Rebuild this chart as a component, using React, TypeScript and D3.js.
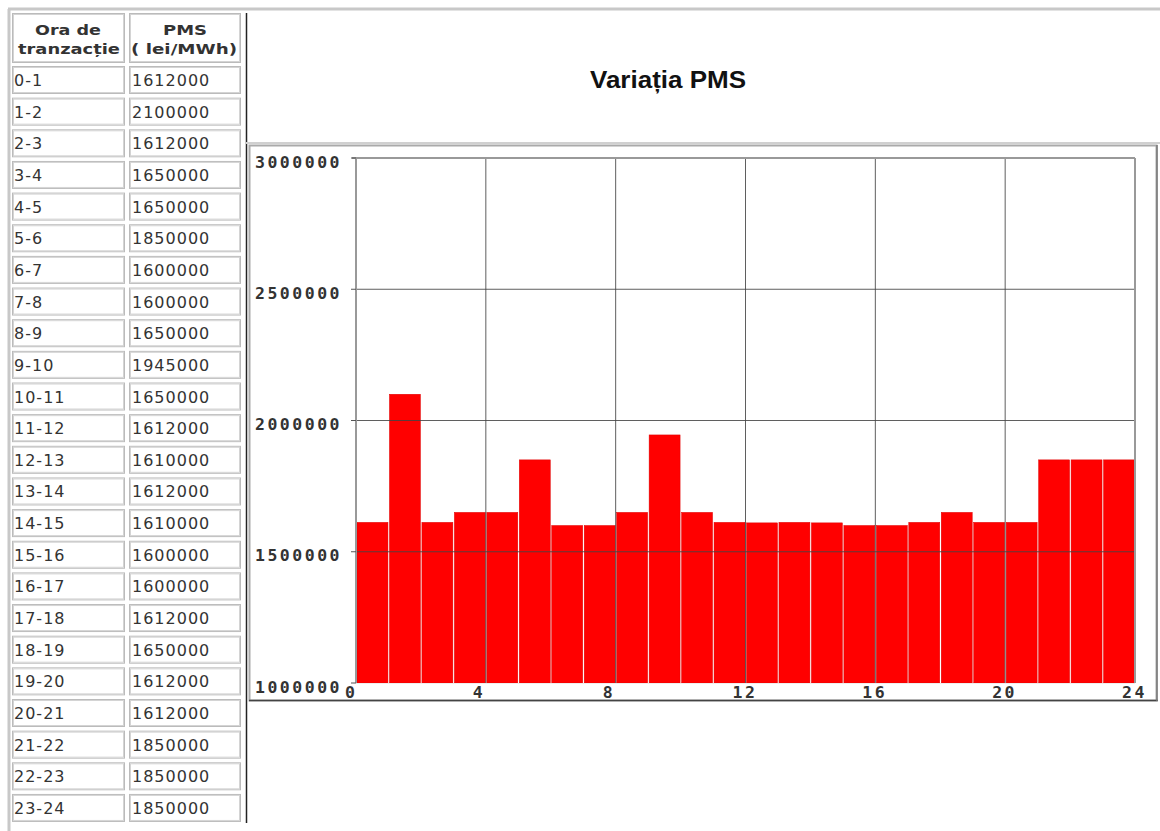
import React from "react";
import * as d3 from "d3";

const hours: string[] = ["0-1","1-2","2-3","3-4","4-5","5-6","6-7","7-8","8-9","9-10","10-11","11-12","12-13","13-14","14-15","15-16","16-17","17-18","18-19","19-20","20-21","21-22","22-23","23-24"];
const prices: number[] = [1612000,2100000,1612000,1650000,1650000,1850000,1600000,1600000,1650000,1945000,1650000,1612000,1610000,1612000,1610000,1600000,1600000,1612000,1650000,1612000,1612000,1850000,1850000,1850000];
const yTicks: number[] = [1000000,1500000,2000000,2500000,3000000];
const xTicks: number[] = [0,4,8,12,16,20,24];
const title = "Variația PMS";
const headCol1 = ["Ora de", "tranzacție"];
const headCol2 = ["PMS", "( lei/MWh)"];

export default function App() {
  const x = d3.scaleLinear().domain([0, 24]).range([356, 1135]);
  const y = d3.scaleLinear().domain([1000000, 3000000]).range([683, 158]);
  const rowTop = (i: number) => 66 + i * 31.65;
  const axisFont = { fontFamily: "'DejaVu Sans Mono', monospace", fontWeight: 700, fontSize: 16.5, letterSpacing: 2.5, fill: "#333" } as const;
  const cellFont = { fontFamily: "'DejaVu Sans', sans-serif", fontSize: 16, letterSpacing: 1, fill: "#333" } as const;
  const headFont = { fontFamily: "'DejaVu Sans', sans-serif", fontWeight: 700, fontSize: 14, fill: "#333" } as const;

  const Cell = ({ x0, y0, w, h }: { x0: number; y0: number; w: number; h: number }) => (
    <g>
      <rect x={x0 + 0.5} y={y0 + 0.5} width={w - 1} height={h - 1} fill="#fff" stroke="#bbb" strokeWidth={1} />
      <rect x={x0 + 1.5} y={y0 + 1.5} width={w - 3} height={h - 3} fill="none" stroke="#d4d4d4" strokeWidth={1} />
    </g>
  );

  return (
    <svg width={1160} height={831} style={{ position: "absolute", left: 0, top: 0, background: "#fff" }}>
      {/* page frame */}
      <line x1={8} y1={9} x2={1160} y2={9} stroke="#c8c8c8" strokeWidth={3} />
      <line x1={9} y1={9} x2={9} y2={831} stroke="#c8c8c8" strokeWidth={3} />
      <line x1={246.5} y1={13} x2={246.5} y2={823} stroke="#222" strokeWidth={1.5} />
      <line x1={246} y1={143} x2={1160} y2={143} stroke="#d0d0d0" strokeWidth={2} />

      {/* table header */}
      <Cell x0={12} y0={13} w={113} h={50} />
      <Cell x0={129} y0={13} w={112} h={50} />
      <text x={68} y={35} textAnchor="middle" {...headFont} textLength={66} lengthAdjust="spacingAndGlyphs">{headCol1[0]}</text>
      <text x={69} y={54} textAnchor="middle" {...headFont} textLength={102} lengthAdjust="spacingAndGlyphs">{headCol1[1]}</text>
      <text x={185} y={35} textAnchor="middle" {...headFont} textLength={44} lengthAdjust="spacingAndGlyphs">{headCol2[0]}</text>
      <text x={184} y={54} textAnchor="middle" {...headFont} textLength={106} lengthAdjust="spacingAndGlyphs">{headCol2[1]}</text>

      {/* table rows */}
      {hours.map((h, i) => (
        <g key={h}>
          <Cell x0={12} y0={rowTop(i)} w={113} h={28} />
          <Cell x0={129} y0={rowTop(i)} w={112} h={28} />
          <text x={14} y={rowTop(i) + 20} {...cellFont}>{h}</text>
          <text x={132} y={rowTop(i) + 20} {...cellFont}>{prices[i]}</text>
        </g>
      ))}

      {/* title */}
      <text x={668} y={88} textAnchor="middle" fontFamily="'Liberation Sans', Arial, sans-serif" fontSize={23} fontWeight={700} fill="#111" textLength={156} lengthAdjust="spacingAndGlyphs">{title}</text>

      {/* chart box */}
      <rect x={249.5} y={145.5} width={907} height={555} fill="#fff" stroke="#aaa" strokeWidth={2} />
      <line x1={249} y1={700.5} x2={1158} y2={700.5} stroke="#444" strokeWidth={1.5} />
      <line x1={1157} y1={145} x2={1157} y2={701} stroke="#777" strokeWidth={1.5} />

      {/* bars */}
      {prices.map((v, i) => (
        <rect key={i} x={x(i) + 1} y={y(v)} width={x(i + 1) - x(i) - 1.5} height={y(1000000) - y(v)} fill="#ff0000" stroke="#e00000" strokeWidth={0.5} />
      ))}

      {/* grid */}
      {xTicks.slice(1, -1).map((t) => (
        <line key={"gx" + t} x1={x(t)} y1={y(3000000)} x2={x(t)} y2={y(1000000)} stroke="#444" strokeWidth={1} opacity={0.85} />
      ))}
      {yTicks.slice(1, -1).map((t) => (
        <line key={"gy" + t} x1={x(0)} y1={y(t)} x2={x(24)} y2={y(t)} stroke="#444" strokeWidth={1} opacity={0.85} />
      ))}
      {/* plot frame */}
      <line x1={x(0) - 4} y1={y(3000000)} x2={x(24)} y2={y(3000000)} stroke="#999" strokeWidth={2} />
      <line x1={x(0)} y1={y(3000000)} x2={x(0)} y2={y(1000000)} stroke="#999" strokeWidth={2} />
      <line x1={x(24)} y1={y(3000000)} x2={x(24)} y2={y(1000000)} stroke="#999" strokeWidth={2} />
      <line x1={x(0)} y1={y(1000000) + 0.5} x2={x(24)} y2={y(1000000) + 0.5} stroke="#eee" strokeWidth={1} />
      {yTicks.map((t) => (
        <line key={"ty" + t} x1={x(0) - 5} y1={y(t)} x2={x(0)} y2={y(t)} stroke="#555" strokeWidth={1} />
      ))}

      {/* axis labels */}
      {yTicks.map((t) => (
        <text key={"ly" + t} x={255} y={y(t) + 9.5} {...axisFont}>{t}</text>
      ))}
      {xTicks.map((t) => (
        <text key={"lx" + t} x={x(t) - (t === 0 ? 11 : 13)} y={698} {...axisFont}>{t}</text>
      ))}
    </svg>
  );
}
